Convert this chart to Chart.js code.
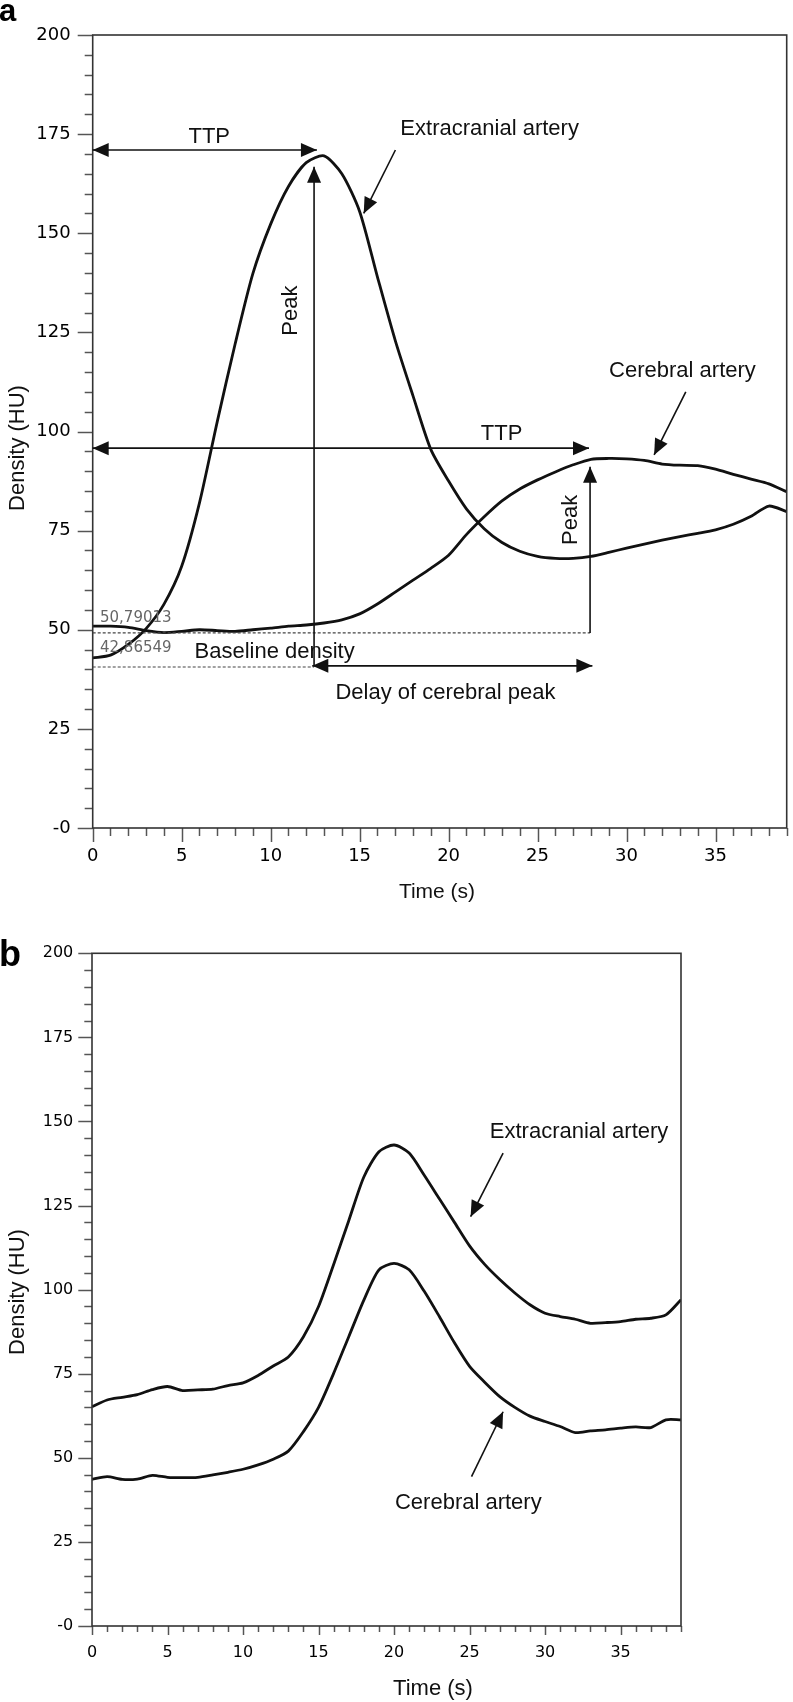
<!DOCTYPE html>
<html>
<head>
<meta charset="utf-8">
<script src="https://cdn.jsdelivr.net/npm/chart.js@4.4.1/dist/chart.umd.min.js"></script>
<style>
    body { margin: 0; background: #fff; }
    #wrap { position: relative; width: 793px; height: 1702px; }
    canvas { position: absolute; left: 0; }
</style>
</head>
<body>
<div id="wrap">
    <canvas id="chartA" width="793" height="910" style="top:0px"></canvas>
    <canvas id="chartB" width="793" height="792" style="top:910px"></canvas>
</div>
<script>
// Panel a: time-density curves (HU), one sample per second
const timeA = [0, 1, 2, 3, 4, 5, 6, 7, 8, 9, 10, 11, 12, 13, 14, 15, 16, 17, 18, 19,
    20, 21, 22, 23, 24, 25, 26, 27, 28, 29, 30, 31, 32, 33, 34, 35, 36, 37, 38, 39];
const extracranialA = [42.9, 43.6, 46.3, 50.3, 56.4, 66, 82, 102.5, 122, 139.8,
    152.3, 161.8, 167.8, 169.5, 165, 155.5, 139, 123, 109, 95.5,
    87.5, 80.5, 75.5, 72, 69.8, 68.5, 68, 68, 68.5, 69.5,
    70.6, 71.6, 72.6, 73.5, 74.3, 75.2, 76.6, 78.6, 81.2, 79.8];
const cerebralA = [50.9, 50.9, 50.6, 49.8, 49.3, 49.6, 50.0, 49.8, 49.6, 50.0,
    50.4, 50.9, 51.2, 51.7, 52.5, 54.0, 56.5, 59.5, 62.5, 65.5,
    68.8, 74.0, 78.5, 82.5, 85.5, 87.8, 89.8, 91.6, 93.0, 93.2,
    93.1, 92.7, 91.8, 91.5, 91.4, 90.5, 89.2, 88.0, 86.8, 84.8];

// Panel b
const timeB = [0, 1, 2, 3, 4, 5, 6, 7, 8, 9, 10, 11, 12, 13, 14, 15, 16, 17, 18, 19,
    20, 21, 22, 23, 24, 25, 26, 27, 28, 29, 30, 31, 32, 33, 34, 35, 36, 37, 38, 39];
const extracranialB = [65.2, 67.2, 68, 68.8, 70.3, 71.2, 70, 70.2, 70.4, 71.5,
    72.3, 74.5, 77.3, 80, 86, 95, 107.5, 120.5, 133.5, 141,
    143, 140.6, 134, 127, 120, 113, 107.5, 103, 99, 95.5,
    93, 92, 91.2, 90, 90.2, 90.5, 91.2, 91.5, 92.5, 97];
const cerebralB = [43.6, 44.4, 43.6, 43.7, 44.8, 44.2, 44.1, 44.2, 44.9, 45.7,
    46.6, 47.9, 49.6, 52, 57.8, 65, 75.1, 86, 96.9, 105.9,
    107.8, 105.9, 99.5, 92, 84.2, 77.2, 72.5, 68.2, 65, 62.4,
    60.8, 59.3, 57.5, 58, 58.3, 58.8, 59.2, 59, 61.3, 61.3];

const xTickLabels = [0, 5, 10, 15, 20, 25, 30, 35];
const yTickLabels = [0, 25, 50, 75, 100, 125, 150, 175, 200];

const TEXT_FONT = '"Liberation Sans", Arial, sans-serif';
const TICK_FONT = '"DejaVu Sans", Verdana, sans-serif';

function toPoints(times, values) {
    return times.map((t, i) => ({ x: t, y: values[i] }));
}

function drawArrowHead(ctx, x1, y1, x2, y2, len, half) {
    const ang = Math.atan2(y2 - y1, x2 - x1);
    const bx = x2 - len * Math.cos(ang);
    const by = y2 - len * Math.sin(ang);
    ctx.beginPath();
    ctx.moveTo(x2, y2);
    ctx.lineTo(bx + half * Math.sin(ang), by - half * Math.cos(ang));
    ctx.lineTo(bx - half * Math.sin(ang), by + half * Math.cos(ang));
    ctx.closePath();
    ctx.fill();
}

// Frame, minor/major tick marks, arrows, notes and axis titles.
function makeOverlay(panel) {
    return {
        id: 'overlay',
        afterDraw(chart) {
            const ctx = chart.ctx;
            const area = chart.chartArea;
            const xs = chart.scales.x;
            const ys = chart.scales.y;
            const px = v => xs.getPixelForValue(v);
            const py = v => ys.getPixelForValue(v);

            ctx.save();

            // tick marks
            ctx.strokeStyle = '#555';
            ctx.lineWidth = 1.5;
            for (let v = 0; v <= 200; v += 5) {
                const len = v % 25 === 0 ? panel.yTick[0] : panel.yTick[1];
                const y = Math.round(py(v)) + 0.5;
                ctx.beginPath();
                ctx.moveTo(area.left - len, y);
                ctx.lineTo(area.left, y);
                ctx.stroke();
            }
            for (let t = 0; t <= 39; t++) {
                const len = t % 5 === 0 ? panel.xTick[0] : panel.xTick[1];
                const x = Math.round(px(t)) + 0.5;
                ctx.beginPath();
                ctx.moveTo(x, area.bottom);
                ctx.lineTo(x, area.bottom + len);
                ctx.stroke();
            }

            // frame
            ctx.strokeStyle = '#333';
            ctx.lineWidth = 1.6;
            ctx.strokeRect(area.left, area.top, area.right - area.left, area.bottom - area.top);

            // dashed guides
            ctx.strokeStyle = '#444';
            ctx.lineWidth = 1.2;
            ctx.setLineDash([3, 2]);
            (panel.dashes || []).forEach(d => {
                ctx.beginPath();
                ctx.moveTo(px(d[0]), py(d[1]));
                ctx.lineTo(px(d[2]), py(d[3]));
                ctx.stroke();
            });
            ctx.setLineDash([]);

            // arrows
            ctx.strokeStyle = '#111';
            ctx.fillStyle = '#111';
            ctx.lineWidth = 1.6;
            panel.arrows.forEach(a => {
                const x1 = px(a.x1), y1 = py(a.y1), x2 = px(a.x2), y2 = py(a.y2);
                ctx.beginPath();
                ctx.moveTo(x1, y1);
                ctx.lineTo(x2, y2);
                ctx.stroke();
                drawArrowHead(ctx, x1, y1, x2, y2, 16, 7);
                if (a.both) drawArrowHead(ctx, x2, y2, x1, y1, 16, 7);
            });

            // notes
            panel.notes.forEach(n => {
                ctx.font = n.small ? `15px ${TICK_FONT}` : `22px ${TEXT_FONT}`;
                ctx.fillStyle = n.small ? '#666' : '#111';
                if (n.rotate) {
                    ctx.save();
                    ctx.translate(px(n.x), py(n.y));
                    ctx.rotate(-Math.PI / 2);
                    ctx.textAlign = 'center';
                    ctx.textBaseline = 'middle';
                    ctx.fillText(n.text, 0, 0);
                    ctx.restore();
                } else {
                    ctx.textAlign = n.align || 'left';
                    ctx.textBaseline = 'alphabetic';
                    ctx.fillText(n.text, px(n.x), py(n.y));
                }
            });

            // axis titles
            ctx.fillStyle = '#111';
            ctx.textAlign = 'center';
            ctx.textBaseline = 'middle';
            ctx.font = `${panel.xTitle.size}px ${TEXT_FONT}`;
            ctx.fillText(panel.xTitle.text, panel.xTitle.x, panel.xTitle.y);
            ctx.save();
            ctx.translate(panel.yTitle.x, panel.yTitle.y);
            ctx.rotate(-Math.PI / 2);
            ctx.font = `${panel.yTitle.size}px ${TEXT_FONT}`;
            ctx.fillText(panel.yTitle.text, 0, 0);
            ctx.restore();

            // panel letter
            ctx.fillStyle = '#000';
            ctx.textAlign = 'left';
            ctx.textBaseline = 'alphabetic';
            ctx.font = `bold ${panel.letter.size}px ${TEXT_FONT}`;
            ctx.fillText(panel.letter.text, panel.letter.x, panel.letter.y);

            ctx.restore();
        }
    };
}

function makeChart(canvasId, times, series, panel) {
    const ctx = document.getElementById(canvasId).getContext('2d');
    return new Chart(ctx, {
        type: 'line',
        data: {
            datasets: series.map(values => ({
                data: toPoints(times, values),
                borderColor: '#111',
                borderWidth: 2.8,
                pointRadius: 0,
                tension: 0.25,
                fill: false
            }))
        },
        options: {
            responsive: false,
            animation: false,
            devicePixelRatio: 1,
            layout: { padding: panel.padding },
            plugins: { legend: { display: false }, tooltip: { enabled: false } },
            scales: {
                x: {
                    type: 'linear',
                    min: 0,
                    max: 39,
                    afterBuildTicks: scale => { scale.ticks = xTickLabels.map(v => ({ value: v })); },
                    afterFit: scale => { scale.height = panel.xAxisHeight; },
                    grid: { display: false, drawTicks: true, tickLength: panel.xTick[0] },
                    border: { display: false },
                    ticks: {
                        autoSkip: false,
                        maxRotation: 0,
                        padding: panel.xPad,
                        color: '#000',
                        font: { family: TICK_FONT, size: panel.tickSize }
                    }
                },
                y: {
                    min: 0,
                    max: 200,
                    afterBuildTicks: scale => { scale.ticks = yTickLabels.map(v => ({ value: v })); },
                    afterFit: scale => { scale.width = panel.yAxisWidth; },
                    grid: { display: false, drawTicks: true, tickLength: panel.yTick[0] },
                    border: { display: false },
                    ticks: {
                        padding: panel.yPad,
                        color: '#000',
                        font: { family: TICK_FONT, size: panel.tickSize },
                        callback: v => (v === 0 ? '-0' : v)
                    }
                }
            }
        },
        plugins: [makeOverlay(panel)]
    });
}

const panelA = {
    padding: { left: 0, top: 35, right: 6.3, bottom: 22 },
    yAxisWidth: 92.7,
    xAxisHeight: 60,
    tickSize: 18,
    yTick: [15, 8],
    xTick: [14, 8],
    yPad: 7,
    xPad: 4,
    letter: { text: 'a', size: 31, x: -1, y: 21 },
    xTitle: { text: 'Time (s)', size: 21, x: 437, y: 892 },
    yTitle: { text: 'Density (HU)', size: 22, x: 18, y: 448 },
    dashes: [[0, 49.2, 27.95, 49.2], [0, 40.6, 12.44, 40.6]],
    arrows: [
        { x1: 0, y1: 171, x2: 12.6, y2: 171, both: true },
        { x1: 12.44, y1: 40.9, x2: 12.44, y2: 166.8 },
        { x1: 17.01, y1: 171, x2: 15.23, y2: 155 },
        { x1: 0, y1: 95.8, x2: 27.89, y2: 95.8, both: true },
        { x1: 33.33, y1: 110, x2: 31.55, y2: 94.1 },
        { x1: 27.95, y1: 49.2, x2: 27.95, y2: 91.1 },
        { x1: 12.34, y1: 40.9, x2: 28.08, y2: 40.9, both: true }
    ],
    notes: [
        { text: 'TTP', x: 6.55, y: 172.8, align: 'center' },
        { text: 'Extracranial artery', x: 17.29, y: 174.8 },
        { text: 'Peak', x: 11.16, y: 130.5, rotate: true },
        { text: 'TTP', x: 22.98, y: 97.9, align: 'center' },
        { text: 'Cerebral artery', x: 29.02, y: 113.8 },
        { text: 'Peak', x: 26.86, y: 77.7, rotate: true },
        { text: 'Baseline density', x: 5.72, y: 42.8 },
        { text: 'Delay of cerebral peak', x: 13.64, y: 32.5 },
        { text: '50,79013', x: 0.41, y: 52.0, small: true },
        { text: '42,86549', x: 0.41, y: 44.5, small: true }
    ]
};

const panelB = {
    padding: { left: 0, top: 43.3, right: 112, bottom: 26 },
    yAxisWidth: 92,
    xAxisHeight: 50,
    tickSize: 16,
    yTick: [13.7, 7.7],
    xTick: [9, 6],
    yPad: 5,
    xPad: 8,
    letter: { text: 'b', size: 36, x: -1, y: 56 },
    xTitle: { text: 'Time (s)', size: 22, x: 433, y: 779 },
    yTitle: { text: 'Density (HU)', size: 22, x: 18, y: 382 },
    dashes: [],
    arrows: [
        { x1: 27.22, y1: 140.6, x2: 25.07, y2: 121.7 },
        { x1: 25.13, y1: 44.4, x2: 27.22, y2: 63.7 }
    ],
    notes: [
        { text: 'Extracranial artery', x: 26.34, y: 145.0 },
        { text: 'Cerebral artery', x: 20.06, y: 34.7 }
    ]
};

makeChart('chartA', timeA, [extracranialA, cerebralA], panelA);
makeChart('chartB', timeB, [extracranialB, cerebralB], panelB);
</script>
</body>
</html>
